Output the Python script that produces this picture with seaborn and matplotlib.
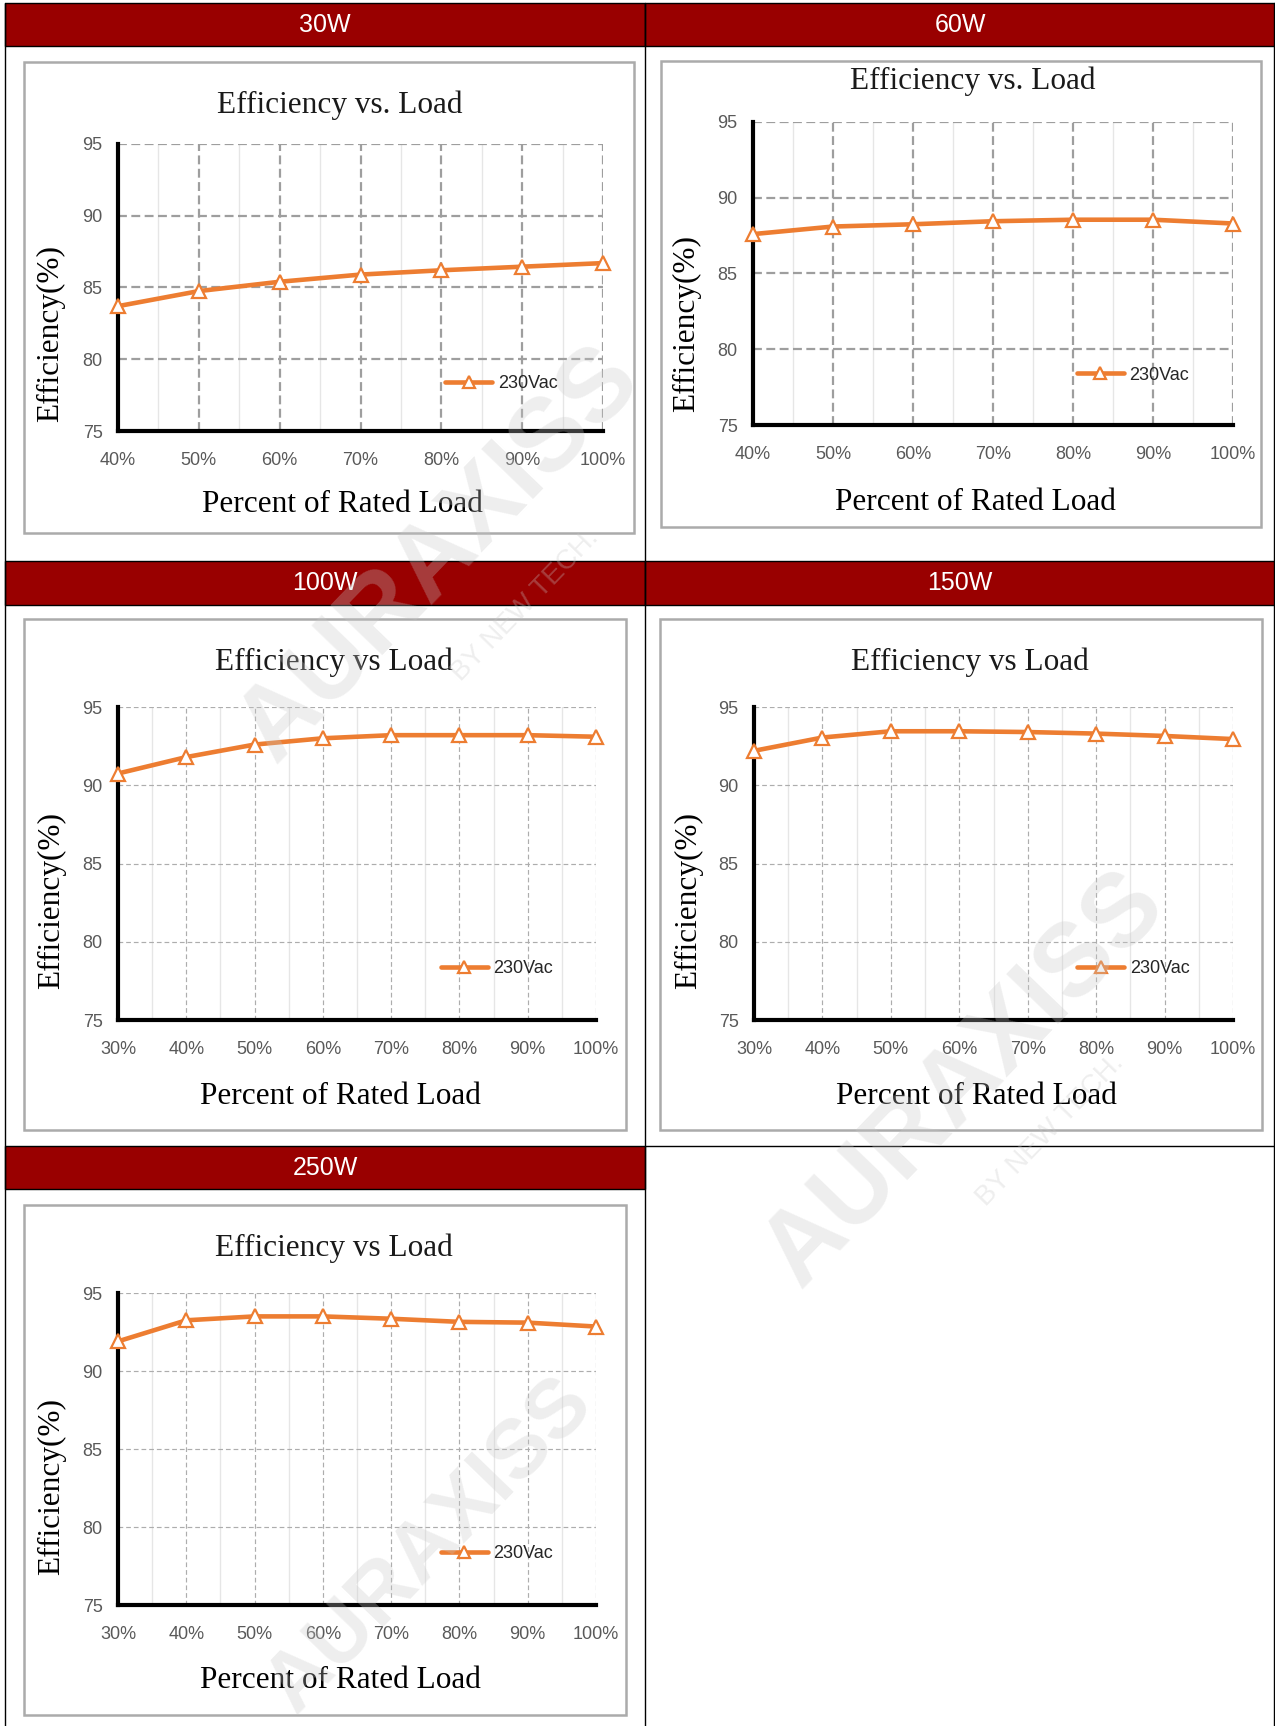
import matplotlib
matplotlib.use("Agg")
import matplotlib.pyplot as plt
import seaborn as sns
from matplotlib.patches import Rectangle
from matplotlib.lines import Line2D
from matplotlib.ticker import MultipleLocator

# values
load_a = [40, 50, 60, 70, 80, 90, 100]
load_b = [30, 40, 50, 60, 70, 80, 90, 100]
eff_30w = [83.7, 84.75, 85.4, 85.9, 86.2, 86.45, 86.7]
eff_60w = [87.6, 88.1, 88.25, 88.45, 88.55, 88.55, 88.3]
eff_100w = [90.75, 91.8, 92.6, 93.0, 93.2, 93.2, 93.2, 93.1]
eff_150w = [92.2, 93.05, 93.45, 93.45, 93.4, 93.3, 93.15, 92.95]
eff_250w = [91.9, 93.25, 93.5, 93.5, 93.35, 93.15, 93.1, 92.85]
y_ticks = [75, 80, 85, 90, 95]
series_name = "230Vac"
titles = ["Efficiency vs. Load", "Efficiency vs. Load", "Efficiency vs Load",
          "Efficiency vs Load", "Efficiency vs Load"]
headers = ["30W", "60W", "100W", "150W", "250W"]

W, H = 1275, 1726
ORANGE = "#ED7D31"
RED = "#990000"

sns.set_theme(style="white")
plt.rcParams["font.family"] = ["Liberation Sans", "DejaVu Sans"]

fig = plt.figure(figsize=(W / 100, H / 100), dpi=100)
fig.patch.set_facecolor("white")


def fr(x0, y0, x1, y1):
    # pixel box (top-left origin) -> figure rect
    return [x0 / W, 1 - y1 / H, (x1 - x0) / W, (y1 - y0) / H]


def hline(x0, x1, y, **kw):
    fig.add_artist(Line2D([x0 / W, x1 / W], [1 - y / H, 1 - y / H], transform=fig.transFigure, **kw))


def vline(x, y0, y1, **kw):
    fig.add_artist(Line2D([x / W, x / W], [1 - y0 / H, 1 - y1 / H], transform=fig.transFigure, **kw))


# table: header bars and cell borders
head_boxes = [(5, 3, 645, 46), (645, 3, 1275, 46), (5, 561, 645, 605),
              (645, 561, 1275, 605), (5, 1146, 645, 1189)]
for (x0, y0, x1, y1), txt in zip(head_boxes, headers):
    r = fr(x0, y0, x1, y1)
    fig.add_artist(Rectangle((r[0], r[1]), r[2], r[3], transform=fig.transFigure,
                             facecolor=RED, edgecolor="black", linewidth=1))
    fig.text(r[0] + r[2] / 2, r[1] + r[3] / 2, txt, color="white", fontsize=18,
             ha="center", va="center")
vline(5, 3, 1726, color="black", linewidth=1)
vline(645, 3, 1726, color="black", linewidth=1)
vline(1274, 3, 1726, color="black", linewidth=1)
hline(645, 1275, 1146, color="black", linewidth=1)

# panel layout in pixels: frame, plot area, title, xlabel, ylabel centres
layout = [
    dict(frame=(24, 62, 634, 533), plot=(118, 144, 603, 431), title=(340, 105),
         xl=(342, 504), yl=(51, 333), heavy=True),
    dict(frame=(661, 61, 1261, 527), plot=(753, 122, 1233, 425), title=(973, 81),
         xl=(975, 502), yl=(687, 323), heavy=True),
    dict(frame=(24, 619, 626, 1130), plot=(118, 707, 596, 1020), title=(334, 662),
         xl=(340, 1096), yl=(52, 900), heavy=False),
    dict(frame=(660, 619, 1262, 1130), plot=(754, 707, 1233, 1020), title=(970, 662),
         xl=(976, 1096), yl=(689, 900), heavy=False),
    dict(frame=(24, 1205, 626, 1715), plot=(118, 1293, 596, 1605), title=(334, 1248),
         xl=(340, 1680), yl=(52, 1486), heavy=False),
]
loads = [load_a, load_a, load_b, load_b, load_b]
effs = [eff_30w, eff_60w, eff_100w, eff_150w, eff_250w]

for lay, load, eff, title in zip(layout, loads, effs, titles):
    r = fr(*lay["frame"])
    fig.add_artist(Rectangle((r[0], r[1]), r[2], r[3], transform=fig.transFigure,
                             facecolor="white", edgecolor="#ABABAB", linewidth=1.8, zorder=0))

    ax = fig.add_axes(fr(*lay["plot"]))
    ax.set_facecolor("white")
    sns.lineplot(x=load, y=eff, ax=ax, color=ORANGE, linewidth=3.3, marker="^",
                 markersize=10.5, markerfacecolor="white", markeredgecolor=ORANGE,
                 markeredgewidth=1.6, label=series_name)
    for ln in ax.lines:
        ln.set_clip_on(False)
        ln.set_zorder(5)

    ax.set_xlim(load[0], load[-1])
    ax.set_ylim(75, 95)
    ax.set_xticks(load)
    ax.set_xticklabels([f"{v}%" for v in load])
    ax.set_yticks(y_ticks)
    ax.xaxis.set_minor_locator(MultipleLocator(5))
    ax.set_axisbelow(True)
    if lay["heavy"]:
        ax.grid(which="major", color="#9E9E9E", linewidth=1.6, linestyle=(0, (4, 2)))
    else:
        ax.grid(which="major", color="#ADADAD", linewidth=0.85, linestyle=(0, (4, 2.5)))
    ax.grid(which="minor", axis="x", color="#E6E6E6", linewidth=1.0, linestyle="-")

    for s in ["top", "right"]:
        ax.spines[s].set_visible(False)
    for s in ["left", "bottom"]:
        ax.spines[s].set_color("black")
        ax.spines[s].set_linewidth(3.0)
    ax.tick_params(which="both", length=0, labelsize=13, labelcolor="#595959")
    ax.tick_params(axis="x", pad=15)
    ax.tick_params(axis="y", pad=11)

    ax.set_xlabel("")
    ax.set_ylabel("")
    fig.text(lay["title"][0] / W, 1 - lay["title"][1] / H, title, family="Liberation Serif",
             fontsize=22.5, color="#1a1a1a", ha="center", va="center")
    fig.text(lay["xl"][0] / W, 1 - lay["xl"][1] / H, "Percent of Rated Load",
             family="Liberation Serif", fontsize=22.5, color="black", ha="center", va="center")
    fig.text(lay["yl"][0] / W, 1 - lay["yl"][1] / H, "Efficiency(%)", family="Liberation Serif",
             fontsize=22.5, color="black", ha="center", va="center", rotation=90)

    leg = ax.legend(loc="center left", bbox_to_anchor=(0.675, 0.165), frameon=False,
                    borderpad=0, borderaxespad=0, handlelength=2.6, handletextpad=0.3,
                    markerscale=0.8, fontsize=13)
    for t in leg.get_texts():
        t.set_color("#262626")

# faint watermark
for (x, y), size in zip([(440, 555), (965, 1080), (430, 1545)], [74, 74, 60]):
    fig.text(x / W, 1 - y / H, "AURAXISS", fontsize=size, fontweight="bold", color="#C8C8C8",
             alpha=0.3, rotation=46, ha="center", va="center", zorder=10)
for (x, y) in [(525, 605), (1050, 1130)]:
    fig.text(x / W, 1 - y / H, "BY NEW TECH.", fontsize=20, color="#C8C8C8",
             alpha=0.3, rotation=46, ha="center", va="center", zorder=10)

fig.savefig("out.png", dpi=100, facecolor="white")
